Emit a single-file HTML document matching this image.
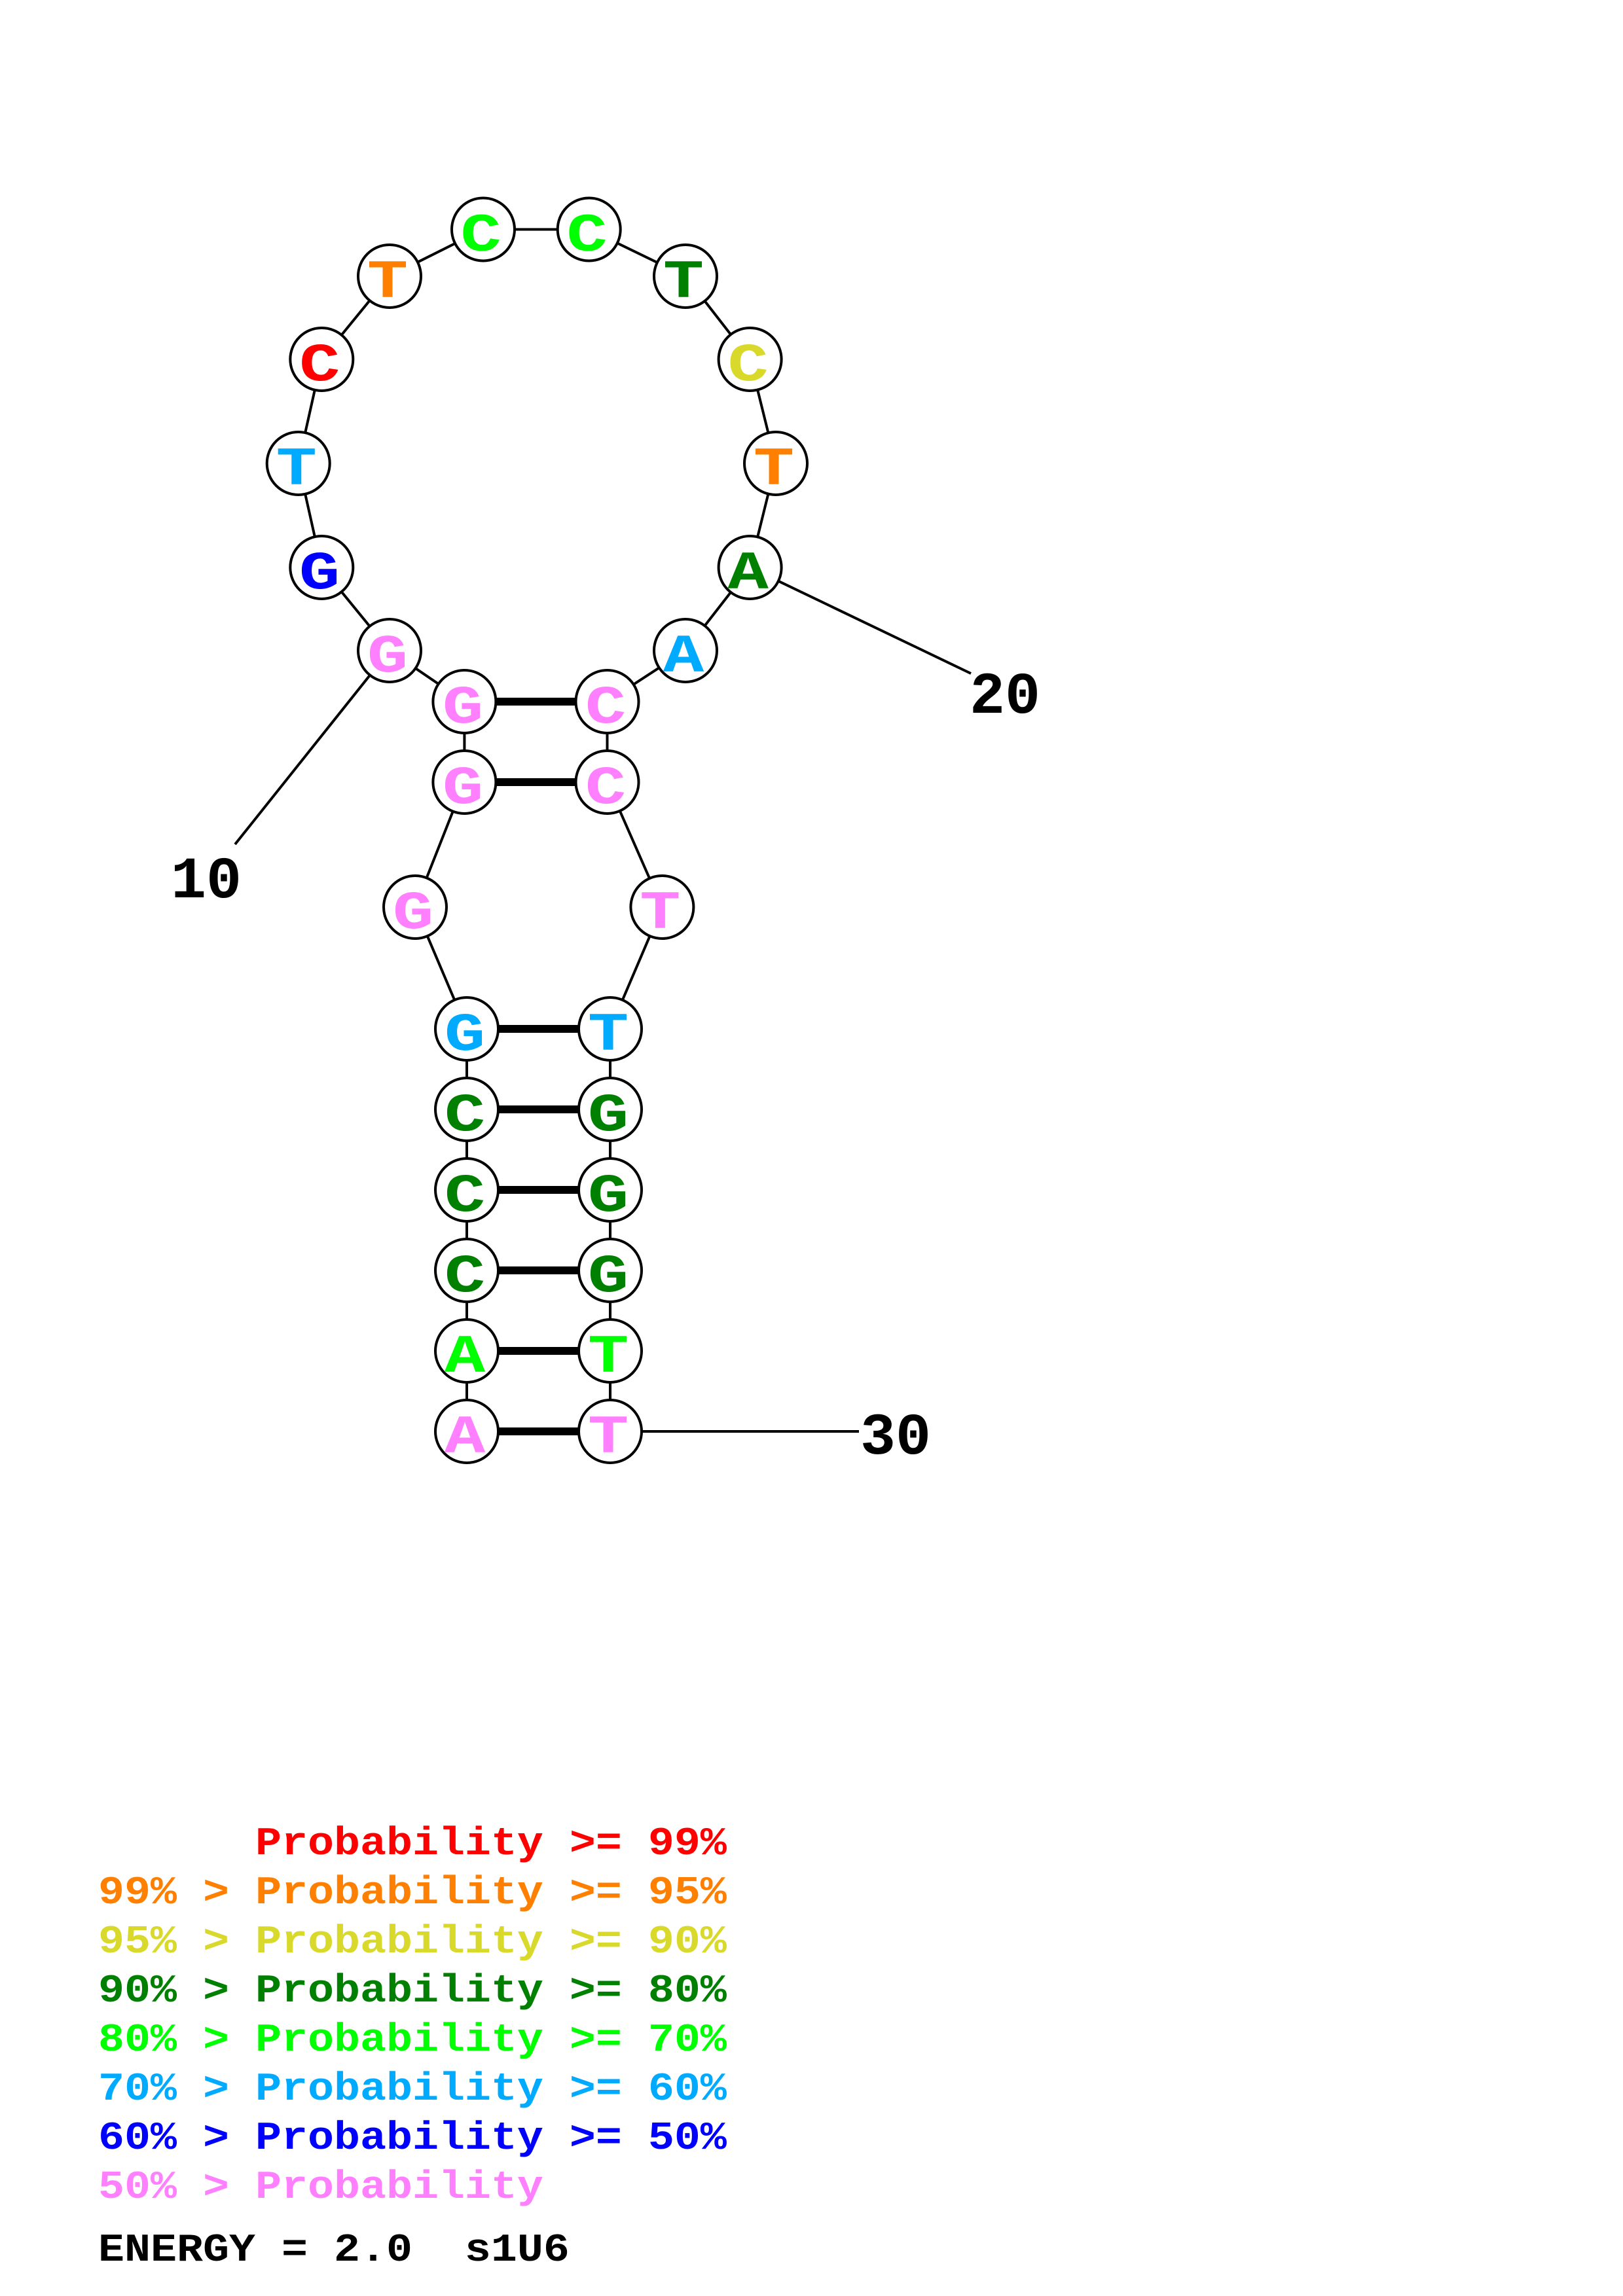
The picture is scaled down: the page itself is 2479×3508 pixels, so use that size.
<!DOCTYPE html>
<html><head><meta charset="utf-8"><style>
html,body{margin:0;padding:0;background:#fff}
svg{display:block}
text{font-family:"Liberation Mono",monospace;font-weight:bold;white-space:pre}
.n{font-size:83px;text-anchor:middle}
.l{font-size:60px}
.d{font-size:90px;fill:#000}
</style></head><body>
<svg xmlns="http://www.w3.org/2000/svg" width="2479" height="3508" viewBox="0 0 2479 3508">
<rect width="2479" height="3508" fill="#fff"/>
<g stroke="#000" stroke-width="4" fill="none">
<polyline points="713,2187 713,2064 713,1941 713,1818 713,1695 713,1572 634,1386 709.4,1195 709.4,1072 595,994 491.3,867 455.7,708 491.3,549 595,422 738,350.5 899.7,350.5 1047,422 1145.6,549 1185,708 1145.6,867 1047,994 927.5,1072 927.5,1195 1011.4,1386 932,1572 932,1695 932,1818 932,1941 932,2064 932,2187"/>
<line x1="595" y1="994" x2="359" y2="1290"/>
<line x1="1145.6" y1="867" x2="1483" y2="1029"/>
<line x1="932" y1="2187" x2="1312" y2="2187"/>
</g>
<g stroke="#000" stroke-width="12">
<line x1="709.4" y1="1072" x2="927.5" y2="1072"/>
<line x1="709.4" y1="1195" x2="927.5" y2="1195"/>
<line x1="713" y1="1572" x2="932" y2="1572"/>
<line x1="713" y1="1695" x2="932" y2="1695"/>
<line x1="713" y1="1818" x2="932" y2="1818"/>
<line x1="713" y1="1941" x2="932" y2="1941"/>
<line x1="713" y1="2064" x2="932" y2="2064"/>
<line x1="713" y1="2187" x2="932" y2="2187"/>
</g>
<g fill="#fff" stroke="#000" stroke-width="4">
<circle cx="713" cy="2187" r="48"/><circle cx="713" cy="2064" r="48"/><circle cx="713" cy="1941" r="48"/><circle cx="713" cy="1818" r="48"/><circle cx="713" cy="1695" r="48"/><circle cx="713" cy="1572" r="48"/>
<circle cx="634" cy="1386" r="48"/><circle cx="709.4" cy="1195" r="48"/><circle cx="709.4" cy="1072" r="48"/><circle cx="595" cy="994" r="48"/><circle cx="491.3" cy="867" r="48"/><circle cx="455.7" cy="708" r="48"/><circle cx="491.3" cy="549" r="48"/><circle cx="595" cy="422" r="48"/><circle cx="738" cy="350.5" r="48"/><circle cx="899.7" cy="350.5" r="48"/><circle cx="1047" cy="422" r="48"/><circle cx="1145.6" cy="549" r="48"/><circle cx="1185" cy="708" r="48"/><circle cx="1145.6" cy="867" r="48"/><circle cx="1047" cy="994" r="48"/><circle cx="927.5" cy="1072" r="48"/><circle cx="927.5" cy="1195" r="48"/><circle cx="1011.4" cy="1386" r="48"/>
<circle cx="932" cy="1572" r="48"/><circle cx="932" cy="1695" r="48"/><circle cx="932" cy="1818" r="48"/><circle cx="932" cy="1941" r="48"/><circle cx="932" cy="2064" r="48"/><circle cx="932" cy="2187" r="48"/>
</g>
<g>
<text class="n" fill="#ff80ff" transform="translate(710 2219) scale(1.25 1)">A</text>
<text class="n" fill="#00ff00" transform="translate(710 2096) scale(1.25 1)">A</text>
<text class="n" fill="#008000" transform="translate(710 1973) scale(1.25 1)">C</text>
<text class="n" fill="#008000" transform="translate(710 1850) scale(1.25 1)">C</text>
<text class="n" fill="#008000" transform="translate(710 1727) scale(1.25 1)">C</text>
<text class="n" fill="#00aaff" transform="translate(710 1604) scale(1.25 1)">G</text>
<text class="n" fill="#ff80ff" transform="translate(631 1418) scale(1.25 1)">G</text>
<text class="n" fill="#ff80ff" transform="translate(707 1227) scale(1.25 1)">G</text>
<text class="n" fill="#ff80ff" transform="translate(707 1104) scale(1.25 1)">G</text>
<text class="n" fill="#ff80ff" transform="translate(592 1026) scale(1.25 1)">G</text>
<text class="n" fill="#0000ff" transform="translate(488 899) scale(1.25 1)">G</text>
<text class="n" fill="#00aaff" transform="translate(452.7 740) scale(1.25 1)">T</text>
<text class="n" fill="#ff0000" transform="translate(488.3 581) scale(1.25 1)">C</text>
<text class="n" fill="#ff8000" transform="translate(592 454) scale(1.25 1)">T</text>
<text class="n" fill="#00ff00" transform="translate(734.5 382.5) scale(1.25 1)">C</text>
<text class="n" fill="#00ff00" transform="translate(896.5 382.5) scale(1.25 1)">C</text>
<text class="n" fill="#008000" transform="translate(1044 454) scale(1.25 1)">T</text>
<text class="n" fill="#d9d92b" transform="translate(1142.6 581) scale(1.25 1)">C</text>
<text class="n" fill="#ff8000" transform="translate(1182 740) scale(1.25 1)">T</text>
<text class="n" fill="#008000" transform="translate(1142.6 899) scale(1.25 1)">A</text>
<text class="n" fill="#00aaff" transform="translate(1044 1026) scale(1.25 1)">A</text>
<text class="n" fill="#ff80ff" transform="translate(925 1104) scale(1.25 1)">C</text>
<text class="n" fill="#ff80ff" transform="translate(925 1227) scale(1.25 1)">C</text>
<text class="n" fill="#ff80ff" transform="translate(1008.4 1418) scale(1.25 1)">T</text>
<text class="n" fill="#00aaff" transform="translate(929 1604) scale(1.25 1)">T</text>
<text class="n" fill="#008000" transform="translate(929 1727) scale(1.25 1)">G</text>
<text class="n" fill="#008000" transform="translate(929 1850) scale(1.25 1)">G</text>
<text class="n" fill="#008000" transform="translate(929 1973) scale(1.25 1)">G</text>
<text class="n" fill="#00ff00" transform="translate(929 2096) scale(1.25 1)">T</text>
<text class="n" fill="#ff80ff" transform="translate(929 2219) scale(1.25 1)">T</text>
</g>
<text class="d" x="261" y="1371">10</text>
<text class="d" x="1481" y="1089">20</text>
<text class="d" x="1314" y="2221">30</text>
<g>
<text class="l" fill="#ff0000" transform="translate(150 2832.8) scale(1.111 1)">      Probability &gt;= 99%</text>
<text class="l" fill="#ff8000" transform="translate(150 2907.8) scale(1.111 1)">99% &gt; Probability &gt;= 95%</text>
<text class="l" fill="#d9d92b" transform="translate(150 2982.9) scale(1.111 1)">95% &gt; Probability &gt;= 90%</text>
<text class="l" fill="#008000" transform="translate(150 3058) scale(1.111 1)">90% &gt; Probability &gt;= 80%</text>
<text class="l" fill="#00ff00" transform="translate(150 3133) scale(1.111 1)">80% &gt; Probability &gt;= 70%</text>
<text class="l" fill="#00aaff" transform="translate(150 3208) scale(1.111 1)">70% &gt; Probability &gt;= 60%</text>
<text class="l" fill="#0000ff" transform="translate(150 3283.1) scale(1.111 1)">60% &gt; Probability &gt;= 50%</text>
<text class="l" fill="#ff80ff" transform="translate(150 3358.2) scale(1.111 1)">50% &gt; Probability</text>
<text class="l" fill="#000" transform="translate(150 3454) scale(1.111 1)">ENERGY = 2.0  s1U6</text>
</g>
</svg>
</body></html>
